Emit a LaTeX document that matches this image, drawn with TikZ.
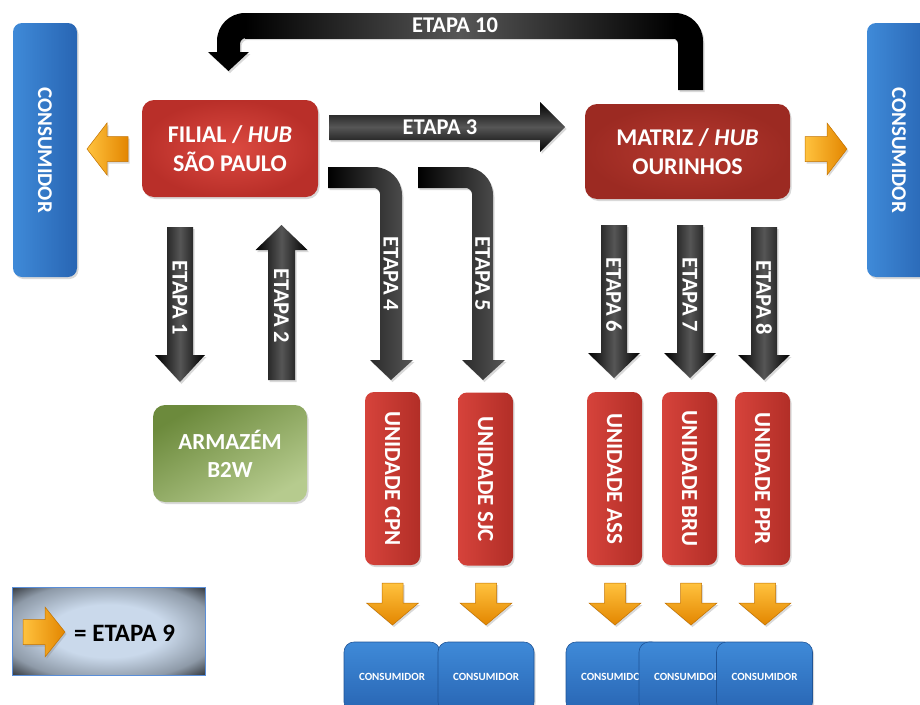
\documentclass[tikz,border=0pt]{standalone}
\usepackage{fontspec}
\setmainfont{Carlito}
\usetikzlibrary{shadows}
\definecolor{blkmid}{HTML}{565656}
\definecolor{redA}{HTML}{DC4A41}
\definecolor{redB}{HTML}{B92F29}
\definecolor{redC}{HTML}{B5392F}
\definecolor{redD}{HTML}{9C2A22}
\definecolor{redU1}{HTML}{D6433B}
\definecolor{redU2}{HTML}{B22E27}
\definecolor{bluA}{HTML}{3F8AD8}
\definecolor{bluB}{HTML}{2865B3}
\definecolor{bluE}{HTML}{1F5497}
\definecolor{grnA}{HTML}{6C8A3C}
\definecolor{grnB}{HTML}{B6CB8E}
\definecolor{orgA}{HTML}{FFC23E}
\definecolor{orgB}{HTML}{E38600}
\definecolor{orgE}{HTML}{C27200}
\definecolor{legin}{HTML}{CAD9EB}
\definecolor{legmid}{HTML}{8E9AA8}
\definecolor{legout}{HTML}{202327}
\definecolor{legline}{HTML}{5A8ED8}
\pgfdeclareradialshading{legshade}{\pgfpoint{0bp}{0bp}}{color(0bp)=(legin); color(15bp)=(legin); color(28bp)=(legmid); color(37bp)=(legout); color(50bp)=(legout)}
% vertical block arrow: cx, ystart, yhead, ytip, half shaft, half head
\newcommand{\BlkArrV}[6]{%
  \shade[blkv,shd] ({#1-#5},#2) -- ({#1+#5},#2) -- ({#1+#5},#3) -- ({#1+#6},#3) -- (#1,#4) -- ({#1-#6},#3) -- ({#1-#5},#3) -- cycle;}
\newcommand{\OrgArrV}[6]{%
  \shade[orgv,shd] ({#1-#5},#2) -- ({#1+#5},#2) -- ({#1+#5},#3) -- ({#1+#6},#3) -- (#1,#4) -- ({#1-#6},#3) -- ({#1-#5},#3) -- cycle;}
\newcommand{\OrgArrH}[6]{%
  \shade[orgh,shd] (#2,{#1-#5}) -- (#2,{#1+#5}) -- (#3,{#1+#5}) -- (#3,{#1+#6}) -- (#4,#1) -- (#3,{#1-#6}) -- (#3,{#1-#5}) -- cycle;}
\begin{document}
\begin{tikzpicture}[x=1pt,y=-1pt,
  shd/.style={drop shadow={opacity=0.3,shadow xshift=1.5pt,shadow yshift=-2pt}},
  blkv/.style={left color=black,right color=black,middle color=blkmid},
  blkh/.style={top color=black,bottom color=black,middle color=blkmid},
  orgv/.style={top color=orgA,bottom color=orgB,draw=orgE,line width=0.5pt},
  orgh/.style={left color=orgA,right color=orgB,draw=orgE,line width=0.5pt},
  lbl/.style={text=white,font=\bfseries\fontsize{22.5}{26}\selectfont,inner sep=0pt},
  boxtxt/.style={text=white,align=center,inner sep=0pt,shd},
  hubbox/.style={boxtxt,rounded corners=12pt,font=\bfseries\fontsize{24}{29}\selectfont},
  unitbox/.style={boxtxt,rounded corners=9pt,rotate=-90,left color=redU1,right color=redU2,
     minimum width=173pt,minimum height=55pt,font=\bfseries\fontsize{23}{26}\selectfont},
  bigcons/.style={boxtxt,rounded corners=9pt,rotate=-90,left color=bluA,right color=bluB,
     minimum width=254pt,minimum height=64pt,font=\bfseries\fontsize{21}{24}\selectfont},
  smallcons/.style={boxtxt,rounded corners=10pt,top color=bluA,bottom color=bluB,draw=bluE,line width=0.6pt,
     minimum width=96pt,minimum height=70pt,font=\bfseries\fontsize{11}{13}\selectfont}]
\useasboundingbox (0,0) rectangle (920,704);

% ---- ETAPA 10 (return arrow)
\fill[black,shd] (678,90) -- (678,44) .. controls (678,40.7) and (675.3,38) .. (672,38)
  -- (246,38) .. controls (242.7,38) and (240,40.7) .. (240,44) -- (240,52) -- (249,52)
  -- (228.5,71) -- (208,52) -- (217,52) -- (217,41) .. controls (217,25.5) and (229.5,13) .. (245,13)
  -- (675,13) .. controls (690.5,13) and (703,25.5) .. (703,41) -- (703,90) -- cycle;
\shade[left color=black,right color=black,middle color=blkmid] (245,13) rectangle (675,38);
\node[lbl] (l10) at (455,25.5) {ETAPA 10};

% ---- ETAPA 3
\shade[blkh,shd] (329,115) -- (540,115) -- (540,102) -- (565,127) -- (540,152) -- (540,140) -- (329,140) -- cycle;
\node[lbl] (l3) at (440,127.5) {ETAPA 3};

% ---- ETAPA 4 and 5 (bent arrows)
\shade[left color=black,right color=blkmid,shd] (328,167) -- (374,167) .. controls (389.5,167) and (402,179.5) .. (402,195)
  -- (402,360) -- (413,360) -- (391,380) -- (370,360) -- (380,360) -- (380,194)
  .. controls (380,190.7) and (376.7,188) .. (374,188) -- (328,188) -- cycle;
\shade[left color=black,right color=blkmid,shd] (418,167) -- (465,167) .. controls (480.5,167) and (493,179.5) .. (493,195)
  -- (493,360) -- (505,360) -- (483,380) -- (462,360) -- (472,360) -- (472,194)
  .. controls (472,190.7) and (468.7,188) .. (466,188) -- (418,188) -- cycle;
\node[lbl,rotate=-90] (l4) at (391,274) {ETAPA 4};
\node[lbl,rotate=-90] (l5) at (482.5,274) {ETAPA 5};

% ---- ETAPA 1, 2, 6, 7, 8
\BlkArrV{180}{227}{355}{382}{13}{25}
\BlkArrV{281.5}{380}{250}{225}{13.5}{26}
\BlkArrV{614}{225}{353}{378}{13}{26}
\BlkArrV{690}{225}{353}{378}{13}{26}
\BlkArrV{764}{227}{355}{380}{13}{26}
\node[lbl,rotate=-90] (l1) at (180,298) {ETAPA 1};
\node[lbl,rotate=-90] (l2) at (281.5,306) {ETAPA 2};
\node[lbl,rotate=-90] (l6) at (614,295) {ETAPA 6};
\node[lbl,rotate=-90] (l7) at (690,295) {ETAPA 7};
\node[lbl,rotate=-90] (l8) at (764,298) {ETAPA 8};

% ---- hubs
\node[hubbox,inner color=redA,outer color=redB,minimum width=176pt,minimum height=97pt] (filial) at (230,148.5)
  {FILIAL / \textit{HUB}\\SÃO PAULO};
\node[hubbox,inner color=redC,outer color=redD,minimum width=205pt,minimum height=95pt] (matriz) at (687.5,151.5)
  {MATRIZ / \textit{HUB}\\OURINHOS};
\node[hubbox,top color=grnA,bottom color=grnB,shading angle=30,minimum width=154pt,minimum height=97pt,
  font=\bfseries\fontsize{23}{28}\selectfont] (armazem) at (230,453.5) {ARMAZÉM\\B2W};

% ---- big consumers
\node[bigcons] (consL) at (45,150) {CONSUMIDOR};
\node[bigcons] (consR) at (899,150) {CONSUMIDOR};
\OrgArrH{149}{128}{107}{87}{12.5}{26}
\OrgArrH{149}{805}{827}{847}{12.5}{26}

% ---- units
\node[unitbox] (cpn) at (392.5,478.5) {UNIDADE CPN};
\node[unitbox] (sjc) at (485.5,479) {UNIDADE SJC};
\node[unitbox] (ass) at (614.5,478.5) {UNIDADE ASS};
\node[unitbox] (bru) at (689.5,478.5) {UNIDADE BRU};
\node[unitbox] (ppr) at (762.5,478.5) {UNIDADE PPR};

% ---- ETAPA 9 arrows
\OrgArrV{392.5}{583}{603}{625}{10.5}{26}
\OrgArrV{486}{583}{603}{625}{10.5}{26}
\OrgArrV{615}{583}{603}{625}{10.5}{26}
\OrgArrV{691}{583}{603}{625}{10.5}{26}
\OrgArrV{765}{583}{603}{625}{10.5}{26}

% ---- small consumers
\node[smallcons] (c1) at (392,677) {CONSUMIDOR};
\node[smallcons] (c2) at (486,677) {CONSUMIDOR};
\node[smallcons] (c3) at (614,677) {CONSUMIDOR};
\node[smallcons] (c4) at (687,677) {CONSUMIDOR};
\node[smallcons] (c5) at (764.5,677) {CONSUMIDOR};

% ---- legend
\node[shading=legshade,draw=legline,line width=0.8pt,minimum width=193pt,minimum height=88pt,inner sep=0pt] (legend) at (108.5,631) {};
\OrgArrH{632}{23}{45}{65}{12.5}{25}
\node[font=\bfseries\fontsize{25}{28}\selectfont,inner sep=0pt,anchor=west] (leg9) at (74,633) {= ETAPA 9};
\end{tikzpicture}
\end{document}
